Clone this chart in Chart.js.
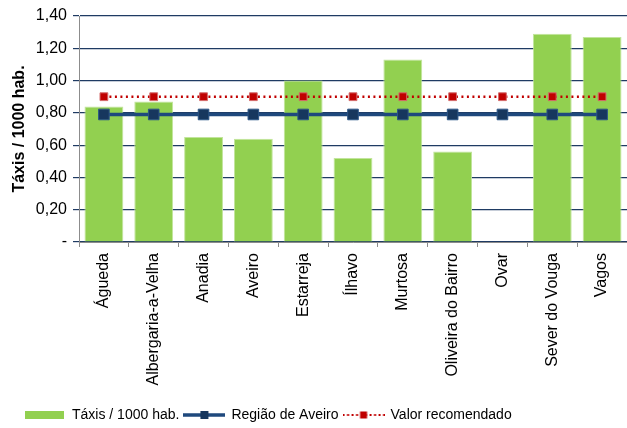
<!DOCTYPE html>
<html>
<head>
<meta charset="utf-8">
<script src="https://cdn.jsdelivr.net/npm/chart.js@4"></script>
<style>
  html, body { margin: 0; padding: 0; background: #fff; }
  #wrap { width: 627px; height: 428px; }
</style>
</head>
<body>
<div id="wrap"><canvas id="taxiChart" width="627" height="428"></canvas></div>
<script>
// chart values
const municipios = ['Águeda', 'Albergaria-a-Velha', 'Anadia', 'Aveiro', 'Estarreja', 'Ílhavo',
  'Murtosa', 'Oliveira do Bairro', 'Ovar', 'Sever do Vouga', 'Vagos'];
const taxisPorMil = [0.84, 0.87, 0.65, 0.64, 1.00, 0.52, 1.13, 0.56, null, 1.29, 1.27];
const regiaoAveiro = [0.79, 0.79, 0.79, 0.79, 0.79, 0.79, 0.79, 0.79, 0.79, 0.79, 0.79];
const valorRecomendado = [0.90, 0.90, 0.90, 0.90, 0.90, 0.90, 0.90, 0.90, 0.90, 0.90, 0.90];
const yTicks = [0, 0.2, 0.4, 0.6, 0.8, 1.0, 1.2, 1.4];

const green = '#92d050';
const navy = '#1f497d';
const red = '#c00000';

// little legend symbols (line + square marker)
function legendSymbol(kind) {
  const c = document.createElement('canvas');
  c.width = 42; c.height = 10;
  const g = c.getContext('2d');
  if (kind === 'bar') {
    g.fillStyle = green;
    g.fillRect(1, 1, 39, 8);
  } else if (kind === 'blue') {
    g.strokeStyle = navy; g.lineWidth = 3.5;
    g.beginPath(); g.moveTo(0, 5); g.lineTo(42, 5); g.stroke();
    g.fillStyle = '#17375e';
    g.fillRect(17, 1, 8, 8);
  } else {
    g.strokeStyle = red; g.lineWidth = 2;
    g.setLineDash([2, 2.5]);
    g.beginPath(); g.moveTo(0, 5); g.lineTo(42, 5); g.stroke();
    g.fillStyle = red;
    g.fillRect(17.5, 1.5, 7, 7);
  }
  return c;
}
const symbols = [legendSymbol('bar'), legendSymbol('blue'), legendSymbol('red')];

const ctx = document.getElementById('taxiChart').getContext('2d');
const chart = new Chart(ctx, {
  type: 'bar',
  data: {
    labels: municipios,
    datasets: [
      {
        type: 'line',
        label: 'Valor recomendado',
        data: valorRecomendado,
        borderColor: red,
        borderWidth: 2.5,
        borderDash: [2, 3.5],
        pointStyle: 'rect',
        pointRadius: 5.5,
        pointBackgroundColor: red,
        pointBorderColor: '#d46a6a',
        pointBorderWidth: 1,
        order: 1
      },
      {
        type: 'line',
        label: 'Região de Aveiro',
        data: regiaoAveiro,
        borderColor: navy,
        borderWidth: 3.5,
        pointStyle: 'rect',
        pointRadius: 7.5,
        pointBackgroundColor: '#17375e',
        pointBorderColor: '#2c5687',
        pointBorderWidth: 1,
        order: 2
      },
      {
        label: 'Táxis / 1000 hab.',
        data: taxisPorMil,
        backgroundColor: green,
        borderColor: '#c2e59c',
        borderWidth: 1,
        barPercentage: 0.78,
        categoryPercentage: 1,
        order: 3
      }
    ]
  },
  options: {
    responsive: false,
    animation: false,
    layout: { autoPadding: false, padding: { left: 20, right: -3, top: 16, bottom: -4 } },
    plugins: {
      tooltip: { enabled: false },
      legend: {
        position: 'bottom',
        align: 'start',
        labels: {
          usePointStyle: true,
          pointStyleWidth: 40,
          padding: 5,
          color: '#000',
          font: { family: 'Arial, "Liberation Sans"', size: 14 },
          generateLabels: (ch) => [2, 1, 0].map((i, k) => ({
            text: ch.data.datasets[i].label,
            pointStyle: symbols[k],
            fillStyle: 'transparent',
            strokeStyle: 'transparent',
            lineWidth: 0,
            datasetIndex: i
          }))
        }
      }
    },
    scales: {
      x: {
        offset: true,
        border: { color: '#8c8c8c', width: 1 },
        grid: { display: true, offset: true, drawOnChartArea: false, color: '#8c8c8c', tickLength: 5 },
        ticks: {
          color: '#000',
          autoSkip: false,
          minRotation: 90,
          maxRotation: 90,
          padding: 6,
          font: { family: 'Arial, "Liberation Sans"', size: 16 }
        },
        afterFit: (s) => { s.height = 161; s.paddingLeft = 0; s.paddingRight = 0; }
      },
      y: {
        min: 0,
        max: 1.4,
        afterBuildTicks: (s) => { s.ticks = yTicks.map(v => ({ value: v })); },
        border: { color: '#8c8c8c', width: 1 },
        grid: { color: '#1f3b63', lineWidth: 1.2, tickLength: 6 },
        ticks: {
          color: '#000',
          padding: 6,
          font: { family: 'Arial, "Liberation Sans"', size: 16 },
          callback: (v) => v === 0 ? '-' : v.toFixed(2).replace('.', ',')
        },
        title: {
          display: true,
          text: 'Táxis / 1000 hab.',
          color: '#000',
          padding: { top: -10, bottom: 0 },
          font: { family: 'Arial, "Liberation Sans"', size: 16, weight: 'bold' }
        },
        afterFit: (s) => { s.width = 59; }
      }
    }
  }
});
</script>
</body>
</html>
